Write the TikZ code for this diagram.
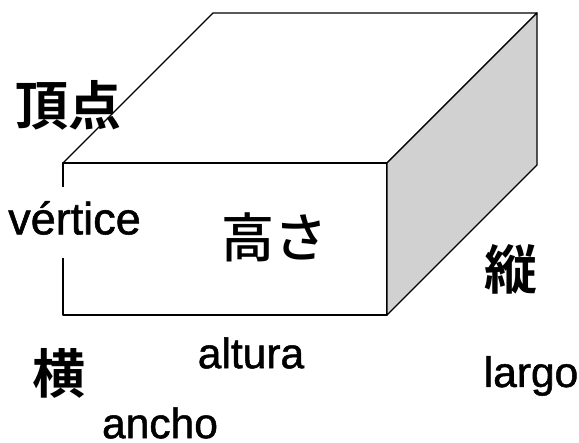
\documentclass[tikz,border=0pt]{standalone}
\usepackage{fontspec}
\setmainfont{Liberation Sans}[FakeBold=1.2]
\newfontfamily\cjk{Noto Sans CJK JP Medium}
\newfontfamily\cjkb{Noto Sans CJK JP Bold}
\tikzset{edge/.style={draw=black,line width=1.3pt,line join=round},
lat/.style={font=\fontsize{42.5}{46}\selectfont,inner sep=0pt,text=black},
jp/.style={font=\cjk\fontsize{53}{56}\selectfont,inner sep=0pt,text=black},
jpb/.style={font=\cjkb\fontsize{53}{56}\selectfont,inner sep=0pt,text=black}}
\begin{document}
\begin{tikzpicture}[x=1pt,y=-1pt]
\useasboundingbox (0,0) rectangle (579,443);
\fill[white] (0,0) rectangle (579,443);
\coordinate (a) at (63,163);
\coordinate (b) at (213,13);
\coordinate (c) at (537,13);
\coordinate (d) at (387,163);
\coordinate (e) at (387,315);
\coordinate (f) at (63,315);
\coordinate (g) at (537,165);
\filldraw[edge,fill=white] (a)--(b)--(c)--(d)--cycle;
\filldraw[edge,fill=white] (a)--(d)--(e)--(f)--cycle;
\filldraw[edge,fill=black!18] (d)--(c)--(g)--(e)--cycle;
\fill[white] (5,187) rectangle (145,258);
\node[jpb] (n1) at (69,105) {頂点};
\node[lat,font=\fontsize{45}{48}\selectfont] (n2) at (74.5,218) {vértice};
\node[jp] (n3) at (274,237) {高さ};
\node[jpb] (n4) at (511,269) {縦};
\node[jpb] (n5) at (59,373) {横};
\node[lat] (n6) at (251,353) {altura};
\node[lat] (n7) at (531,376) {largo};
\node[lat] (n8) at (160,423) {ancho};
\end{tikzpicture}
\end{document}
